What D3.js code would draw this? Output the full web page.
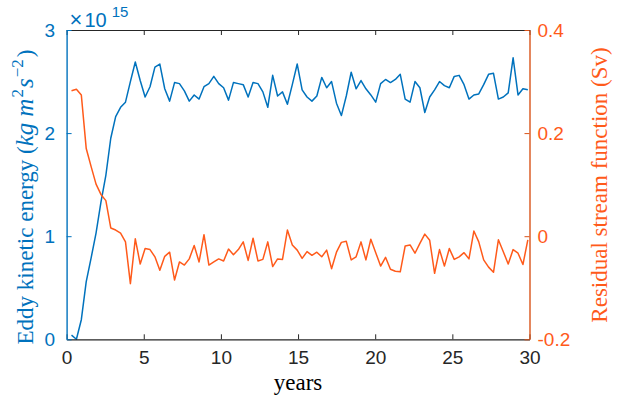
<!DOCTYPE html>
<html>
<head>
<meta charset="utf-8">
<script src="https://cdn.jsdelivr.net/npm/d3@7"></script>
<style>
  body { margin: 0; background: #fff; }
  #chart { margin: 0; }
  .tick text { font-family: "Liberation Sans", Arial, sans-serif; font-size: 19px; }
  .serif { font-family: "Liberation Serif", "Times New Roman", serif; font-size: 23px; }
</style>
</head>
<body>
<figure id="chart"></figure>
<script>
// eddy kinetic energy, in units of 10^15 kg m^2 s^-2
const ekeValues = [
  0.04, 0.00, 0.19, 0.56, 0.79, 1.03, 1.33, 1.59, 1.95, 2.16,
  2.25, 2.30, 2.50, 2.69, 2.51, 2.35, 2.45, 2.64, 2.67, 2.43,
  2.31, 2.49, 2.48, 2.41, 2.31, 2.37, 2.33, 2.45, 2.48, 2.55,
  2.48, 2.44, 2.32, 2.49, 2.48, 2.47, 2.35, 2.49, 2.48, 2.40,
  2.25, 2.56, 2.36, 2.40, 2.28, 2.47, 2.67, 2.42, 2.35, 2.31,
  2.36, 2.54, 2.44, 2.50, 2.29, 2.17, 2.36, 2.59, 2.43, 2.51,
  2.43, 2.37, 2.30, 2.48, 2.52, 2.49, 2.52, 2.57, 2.33, 2.30,
  2.50, 2.44, 2.20, 2.35, 2.42, 2.50, 2.46, 2.44, 2.55, 2.56,
  2.47, 2.33, 2.37, 2.38, 2.47, 2.57, 2.58, 2.33, 2.35, 2.39,
  2.73, 2.37, 2.43, 2.42
];

// residual stream function (Sv)
const rsfValues = [
  0.282, 0.285, 0.274, 0.170, 0.135, 0.101, 0.081, 0.069, 0.016, 0.012,
  0.006, -0.011, -0.092, -0.005, -0.054, -0.024, -0.026, -0.040, -0.066, -0.039,
  -0.031, -0.085, -0.050, -0.056, -0.044, -0.018, -0.050, 0.003, -0.056, -0.050,
  -0.044, -0.048, -0.025, -0.036, -0.026, -0.011, -0.047, -0.004, -0.048, -0.045,
  -0.011, -0.059, -0.044, -0.045, 0.012, -0.017, -0.027, -0.043, -0.030, -0.037,
  -0.031, -0.040, -0.027, -0.063, -0.031, -0.012, -0.010, -0.046, -0.040, -0.011,
  -0.046, -0.006, -0.032, -0.058, -0.041, -0.064, -0.068, -0.069, -0.019, -0.017,
  -0.033, -0.014, 0.004, -0.008, -0.072, -0.026, -0.058, -0.024, -0.045, -0.040,
  -0.032, -0.044, 0.010, -0.011, -0.046, -0.060, -0.070, -0.007, -0.030, -0.054,
  -0.026, -0.033, -0.055, -0.007
];

// output interval in years
const step = 0.318;
const years = ekeValues.map((d, i) => (i + 1) * step);

const xTicks = [0, 5, 10, 15, 20, 25, 30];
const leftTicks = [0, 1, 2, 3];
const leftTickLabels = ["0", "1", "2", "3"];
const rightTicks = [-0.2, 0, 0.2, 0.4];
const rightTickLabels = ["-0.2", "0", "0.2", "0.4"];

const blue = "#0072BD";
const orange = "#FF5A1A";
const orangeAxis = "#D95319";

const margin = { top: 30, right: 98.5, bottom: 57.7, left: 66.6 };
const width = 628 - margin.left - margin.right;
const height = 397 - margin.top - margin.bottom;

const svg = d3.select("figure#chart")
  .append("svg")
  .attr("width", 628)
  .attr("height", 397)
  .style("display", "block")
  .style("background", "#fff");

const g = svg.append("g")
  .attr("transform", "translate(" + margin.left + "," + margin.top + ")");

const x = d3.scaleLinear().domain([0, 30]).range([0, width]);
const yLeft = d3.scaleLinear().domain([0, 3]).range([height, 0]);
const yRight = d3.scaleLinear().domain([-0.2, 0.4]).range([height, 0]);

// lines
g.append("path")
  .datum(ekeValues)
  .attr("fill", "none")
  .attr("stroke", blue)
  .attr("stroke-width", 1.5)
  .attr("stroke-linejoin", "round")
  .attr("d", d3.line().x((d, i) => x(years[i])).y(d => yLeft(d)));

g.append("path")
  .datum(rsfValues)
  .attr("fill", "none")
  .attr("stroke", orange)
  .attr("stroke-width", 1.5)
  .attr("stroke-linejoin", "round")
  .attr("d", d3.line().x((d, i) => x(years[i])).y(d => yRight(d)));

// bottom and top axes
g.append("g")
  .attr("transform", "translate(0," + height + ")")
  .attr("color", "#262626")
  .call(d3.axisBottom(x).tickValues(xTicks).tickSize(-5).tickSizeOuter(0).tickPadding(11));

g.append("g")
  .attr("color", "#262626")
  .call(d3.axisTop(x).tickValues(xTicks).tickSize(-5).tickSizeOuter(0).tickFormat(""));

g.selectAll(".domain").attr("stroke-width", 1.2);

// left axis
const leftAxis = g.append("g")
  .attr("color", blue)
  .call(d3.axisLeft(yLeft).tickValues(leftTicks).tickSize(-5).tickSizeOuter(0).tickPadding(11.5)
    .tickFormat((d, i) => leftTickLabels[i]));
leftAxis.select(".domain").attr("stroke-width", 1.4);

// right axis
const rightAxis = g.append("g")
  .attr("transform", "translate(" + width + ",0)")
  .attr("color", orangeAxis)
  .call(d3.axisRight(yRight).tickValues(rightTicks).tickSize(-5).tickSizeOuter(0).tickPadding(8)
    .tickFormat((d, i) => rightTickLabels[i]));
rightAxis.select(".domain").attr("stroke-width", 1.4);
rightAxis.selectAll(".tick text").attr("fill", orange);

// exponent
const expo = g.append("text")
  .attr("x", 3)
  .attr("y", -3)
  .attr("fill", blue)
  .style("font-family", "Liberation Sans, Arial, sans-serif")
  .style("font-size", "20px");
expo.append("tspan").style("font-size", "22px").style("font-weight", "300").text("\u00d7");
expo.append("tspan").attr("dx", 2).text("10");
expo.append("tspan").attr("dy", -10).attr("dx", 5).style("font-size", "15px").text("15");

// axis labels
svg.append("text")
  .attr("class", "serif")
  .attr("x", margin.left + width / 2)
  .attr("y", 390)
  .attr("text-anchor", "middle")
  .attr("fill", "#000")
  .text("years");

const leftLabel = svg.append("text")
  .attr("class", "serif")
  .attr("transform", "translate(33,197) rotate(-90)")
  .attr("text-anchor", "middle")
  .attr("fill", blue);
leftLabel.append("tspan").text("Eddy kinetic energy (");
leftLabel.append("tspan").style("font-style", "italic").style("font-size", "25px").text("kg");
leftLabel.append("tspan").attr("dx", 6).style("font-style", "italic").style("font-size", "25px").text("m");
leftLabel.append("tspan").attr("dy", -10).attr("dx", 1).style("font-size", "17px").text("2");
leftLabel.append("tspan").attr("dy", 10).attr("dx", 1).style("font-style", "italic").style("font-size", "25px").text("s");
leftLabel.append("tspan").attr("dy", -10).attr("dx", 1).style("font-size", "17px").text("\u22122");
leftLabel.append("tspan").attr("dy", 10).attr("dx", 2).text(")");

svg.append("text")
  .attr("class", "serif")
  .attr("transform", "translate(607,185) rotate(-90)")
  .attr("text-anchor", "middle")
  .attr("fill", orange)
  .text("Residual stream function (Sv)");
</script>
</body>
</html>
